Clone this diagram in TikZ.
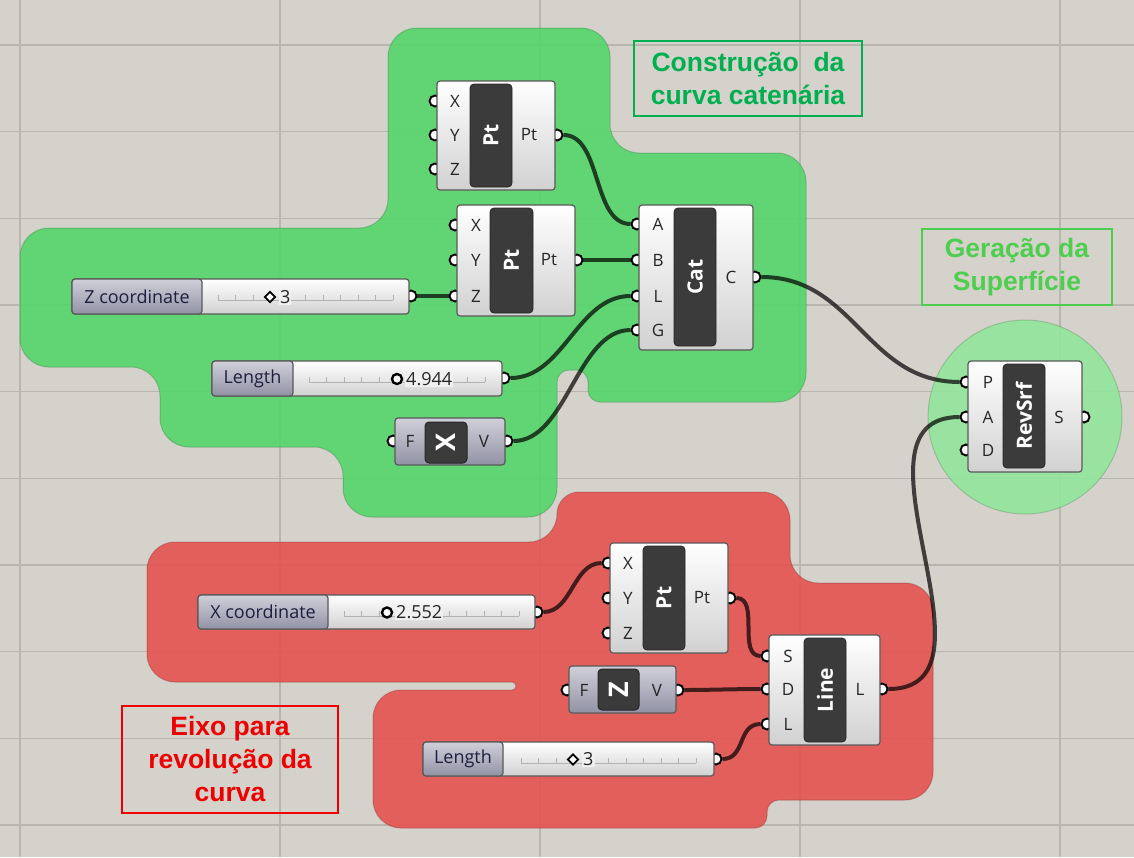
\documentclass[tikz,border=0pt]{standalone}
\usepackage{fontspec}
\setmainfont{Liberation Sans}
\newfontfamily\ghfont{Open Sans}
\usetikzlibrary{shapes.geometric}
\definecolor{Canvas}{RGB}{213,209,203}
\definecolor{GridLn}{RGB}{186,181,175}
\definecolor{GrpGreen}{RGB}{85,213,107}
\definecolor{GrpRed}{RGB}{228,83,80}
\definecolor{GrpMint}{RGB}{145,229,155}
\definecolor{NoteGreen}{RGB}{0,176,80}
\definecolor{NoteLime}{RGB}{78,206,78}
\definecolor{NoteRed}{RGB}{238,0,0}
\definecolor{SldTop}{RGB}{208,208,218}
\definecolor{SldBot}{RGB}{146,146,166}
\definecolor{Ink}{RGB}{30,30,62}
\tikzset{
 gridline/.style={draw=GridLn,line width=1.5pt},
 grp/.style={fill opacity=0.9,draw opacity=0.35,line width=1pt},
 note/.style={draw,line width=1.3pt,align=center,inner sep=0pt,font=\bfseries\fontsize{26.5}{33}\selectfont},
 comp/.style={draw=black!65,line width=1.2pt,rounded corners=3pt,top color=white,bottom color=black!18,inner sep=0pt},
 bar/.style={draw=black!85,line width=0.8pt,rounded corners=4pt,fill=black!77,text=white,rotate=90,inner sep=0pt,font=\ghfont\bfseries\fontsize{21}{22}\selectfont},
 lbl/.style={inner sep=0pt,text=black!85,font=\ghfont\fontsize{17}{18}\selectfont},
 port/.style={circle,draw=black,fill=white,line width=1.9pt,minimum size=11pt,inner sep=0pt},
 sld/.style={draw=black!65,line width=1.2pt,rounded corners=3pt,top color=white,bottom color=black!18,inner sep=0pt},
 sldname/.style={draw=black!65,line width=1.2pt,rounded corners=3pt,top color=SldTop,bottom color=SldBot,text=Ink,inner sep=0pt,font=\ghfont\fontsize{18}{18}\selectfont},
 val/.style={fill=black!6,inner sep=1pt,text=black!85,font=\ghfont\fontsize{18}{18}\selectfont},
 track/.style={draw=black!30,line width=0.8pt},
 knob/.style={circle,draw=black,fill=white,line width=2.4pt,minimum size=10pt,inner sep=0pt},
 knobd/.style={diamond,draw=black,fill=white,line width=1.8pt,minimum size=11pt,inner sep=0pt},
 tgl/.style={draw=black!65,line width=1.2pt,rounded corners=3pt,top color=SldTop,bottom color=SldBot,inner sep=0pt},
 tglkey/.style={draw=black!85,line width=1pt,rounded corners=4pt,fill=black!77,text=white,rotate=90,inner sep=0pt,font=\ghfont\bfseries\fontsize{27}{27}\selectfont},
 wire/.style={draw=black,draw opacity=0.7,line width=4pt}
}
\begin{document}
\begin{tikzpicture}[x=1pt,y=-1pt]
\useasboundingbox (0,0) rectangle (1134,857);
\fill[Canvas] (0,0) rectangle (1134,857);
\foreach \x in {20,280,540,800,1060} \draw[gridline] (\x,0) -- (\x,857);
\foreach \y in {45,131.7,218.3,305,391.7,478.3,565,651.7,738.3,825} \draw[gridline] (0,\y) -- (1134,\y);

% groups
\path[grp,fill=GrpGreen,draw=GrpGreen!60!black,rounded corners=29pt] (388,28) -- (610,28) -- (610,153) -- (806,153) -- (806,402) [rounded corners=12pt] -- (588,402) -- (588,370) -- (557,370) [rounded corners=29pt] -- (557,517) -- (343,517) -- (343,447) -- (160,447) -- (160,367) -- (20,367) -- (20,228) -- (388,228) -- cycle;
\path[grp,fill=GrpRed,draw=GrpRed!60!black,rounded corners=28pt] (557,542) [rounded corners=22pt] -- (557,492) [rounded corners=28pt] -- (790,492) -- (790,583) -- (933,583) -- (933,800) [rounded corners=12pt] -- (767,800) -- (767,828) [rounded corners=28pt] -- (373,828) -- (373,690) [rounded corners=4pt] -- (516,690) -- (516,682) [rounded corners=28pt] -- (147,682) -- (147,542) -- cycle;
\path[grp,fill=GrpMint,draw=GrpMint!60!black] (1025,417) circle[radius=97];

\node[note,draw=NoteGreen,text=NoteGreen,minimum width=228pt,minimum height=75pt] (note-cat) at (748,78.5) {Construção~ da\\curva catenária};
\node[note,draw=NoteLime,text=NoteLime,minimum width=190pt,minimum height=76pt] (note-rev) at (1017,267) {Geração da\\Superfície};
\node[note,draw=NoteRed,text=NoteRed,minimum width=216pt,minimum height=107pt] (note-axis) at (230,759.5) {Eixo para\\revolução da\\curva};

% ports
\foreach \n/\x/\y in {pta-x/435/101,pta-y/435/135,pta-z/435/169,pta-o/557/135,
  ptb-x/455/225,ptb-y/455/260,ptb-z/455/296,ptb-o/577/260,
  cat-a/637/224,cat-b/637/260,cat-l/637/296,cat-g/637/330,cat-o/755/277,
  rs-p/966/382,rs-a/966/417,rs-d/966/450,rs-o/1084/417,
  ptc-x/608/563,ptc-y/608/598,ptc-z/608/633,ptc-o/730/598,
  ln-s/767/656,ln-d/767/689,ln-l/767/724,ln-o/882/689,
  zc-o/411/296,lena-o/504/378,xc-o/537/612,lenb-o/716/759,
  tx-i/393/441,tx-o/507/441,tz-i/567/690,tz-o/678/690}
  \node[port] (\n) at (\x,\y) {};

% components
\node[comp,minimum width=118pt,minimum height=109pt] (pta) at (496,135.5) {};
\node[bar,minimum width=103pt,minimum height=42pt] (pta-n) at (491,135.5) {Pt};
\foreach \t/\y in {X/101,Y/135,Z/169} \node[lbl] (pta-l\t) at (455,\y) {\t};
\node[lbl] (pta-lo) at (529,135) {Pt};

\node[comp,minimum width=118pt,minimum height=111pt] (ptb) at (516,260.5) {};
\node[bar,minimum width=105pt,minimum height=43pt] (ptb-n) at (511.5,260.5) {Pt};
\foreach \t/\y in {X/225,Y/260,Z/296} \node[lbl] (ptb-l\t) at (476,\y) {\t};
\node[lbl] (ptb-lo) at (549,260) {Pt};

\node[comp,minimum width=114pt,minimum height=145pt] (cat) at (696,277.5) {};
\node[bar,minimum width=138pt,minimum height=42pt] (cat-n) at (695,277) {Cat};
\foreach \t/\y in {A/224,B/260,L/296,G/330} \node[lbl] (cat-l\t) at (658,\y) {\t};
\node[lbl] (cat-lo) at (731,277) {C};

\node[comp,minimum width=114pt,minimum height=111pt] (rs) at (1025,416.5) {};
\node[bar,minimum width=104pt,minimum height=42pt] (rs-n) at (1024,416) {RevSrf};
\foreach \t/\y in {P/382,A/417,D/450} \node[lbl] (rs-l\t) at (988,\y) {\t};
\node[lbl] (rs-lo) at (1059,417) {S};

\node[comp,minimum width=118pt,minimum height=110pt] (ptc) at (669,598) {};
\node[bar,minimum width=104pt,minimum height=42pt] (ptc-n) at (664,598) {Pt};
\foreach \t/\y in {X/563,Y/598,Z/633} \node[lbl] (ptc-l\t) at (628,\y) {\t};
\node[lbl] (ptc-lo) at (702,598) {Pt};

\node[comp,minimum width=111pt,minimum height=110pt] (ln) at (824.5,690) {};
\node[bar,minimum width=104pt,minimum height=42pt] (ln-n) at (825,690) {Line};
\foreach \t/\y in {S/656,D/689,L/724} \node[lbl] (ln-l\t) at (788,\y) {\t};
\node[lbl] (ln-lo) at (860,689) {L};

% sliders
\node[sld,minimum width=337pt,minimum height=35pt] (zc) at (240.5,296.5) {};
\node[sldname,minimum width=130pt,minimum height=35pt] (zc-n) at (137,296.5) {Z coordinate};
\node[sld,minimum width=290pt,minimum height=35pt] (lena) at (357,378.5) {};
\node[sldname,minimum width=81pt,minimum height=35pt] (lena-n) at (252.5,378.5) {Length};
\node[sld,minimum width=337pt,minimum height=34pt] (xc) at (366.5,612) {};
\node[sldname,minimum width=130pt,minimum height=34pt] (xc-n) at (263,612) {X coordinate};
\node[sld,minimum width=291pt,minimum height=34pt] (lenb) at (568.5,759) {};
\node[sldname,minimum width=80pt,minimum height=34pt] (lenb-n) at (463,759) {Length};
\foreach \a/\b/\y in {218/393/300,309/485/382,344/519/616,521/696/763} {
  \draw[track] (\a,\y) -- (\b,\y);
  \foreach \i in {0,...,10} \draw[track] ({\a+(\b-\a)*\i/10},\y) -- ++(0,-5);
}
\node[knobd] (zc-k) at (270,297) {};
\node[val,anchor=west] (zc-v) at (279,297) {3};
\node[knob] (lena-k) at (397,379) {};
\node[val,anchor=west] (lena-v) at (405,379) {4.944};
\node[knob] (xc-k) at (387,612.5) {};
\node[val,anchor=west] (xc-v) at (395,612.5) {2.552};
\node[knobd] (lenb-k) at (573,759.5) {};
\node[val,anchor=west] (lenb-v) at (582,759.5) {3};

% toggles
\node[tgl,minimum width=110pt,minimum height=47pt] (tx) at (450,441.5) {};
\node[tglkey,minimum width=41pt,minimum height=42pt] (tx-k) at (446,442.5) {X};
\node[lbl] (tx-lf) at (410,441) {F};
\node[lbl] (tx-lv) at (484,441) {V};
\node[tgl,minimum width=107pt,minimum height=47pt] (tz) at (622.5,689.5) {};
\node[tglkey,minimum width=41pt,minimum height=41pt] (tz-k) at (618.5,689.5) {Z};
\node[lbl] (tz-lf) at (584,690) {F};
\node[lbl] (tz-lv) at (657,690) {V};

% wires
\foreach \a/\b/\d in {pta-o/cat-a/45,ptb-o/cat-b/20,zc-o/ptb-z/20,lena-o/cat-l/60,tx-o/cat-g/60,cat-o/rs-p/100,xc-o/ptc-x/35,ptc-o/ln-s/30,tz-o/ln-d/30,lenb-o/ln-l/30,ln-o/rs-a/130}
  \draw[wire] (\a) .. controls +(\d,0) and +(-\d,0) .. (\b);
\end{tikzpicture}
\end{document}
